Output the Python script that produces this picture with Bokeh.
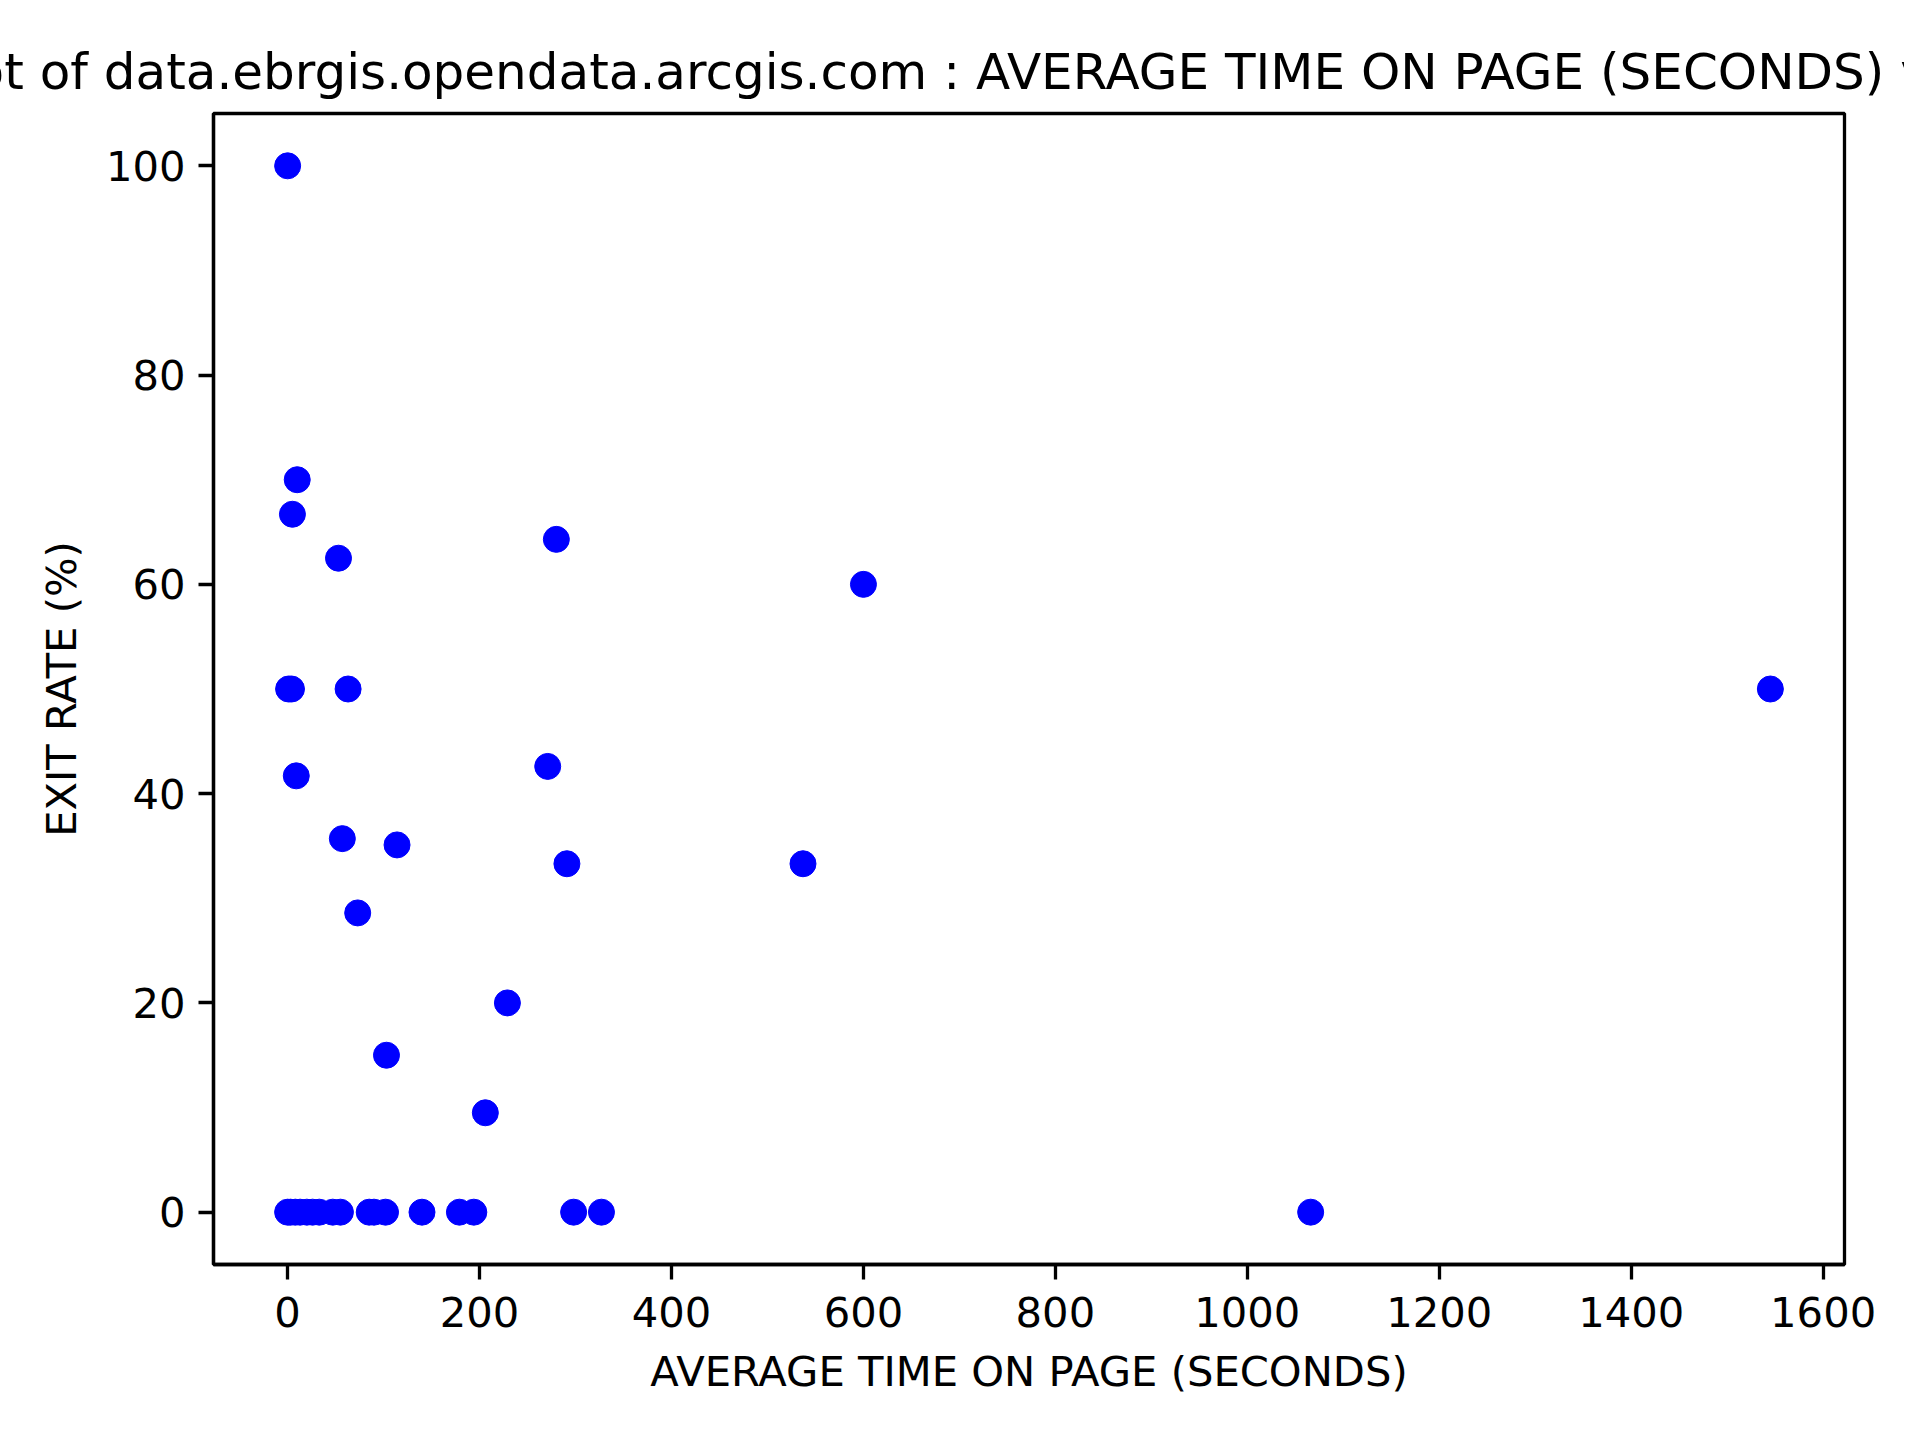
from bokeh.plotting import figure
from bokeh.models import ColumnDataSource, FixedTicker, Range1d
from bokeh.embed import file_html
from bokeh.resources import INLINE

# values
avg_time = [0, 10, 5, 280, 53, 600, 1, 4, 63, 1545, 9, 271, 57, 114, 291, 537, 73,
            229, 103, 206,
            0, 3, 8, 13, 20, 26, 33, 47, 55, 85, 90, 102, 140, 179, 194, 298, 327, 1066]
exit_rate = [100, 70, 66.7, 64.3, 62.5, 60, 50, 50, 50, 50, 41.7, 42.6, 35.7, 35.1, 33.3, 33.3, 28.6,
             20, 15, 9.5,
             0, 0, 0, 0, 0, 0, 0, 0, 0, 0, 0, 0, 0, 0, 0, 0, 0, 0]
x_ticks = [0, 200, 400, 600, 800, 1000, 1200, 1400, 1600]
y_ticks = [0, 20, 40, 60, 80, 100]

title = ("Scatter plot of data.ebrgis.opendata.arcgis.com : "
         "AVERAGE TIME ON PAGE (SECONDS) vs EXIT RATE (%)")

FONT = "DejaVu Sans"

# matplotlib-like 5% margins around the data
xspan = max(avg_time) - min(avg_time)
yspan = max(exit_rate) - min(exit_rate)
x_range = Range1d(min(avg_time) - 0.05 * xspan, max(avg_time) + 0.05 * xspan)
y_range = Range1d(min(exit_rate) - 0.05 * yspan, max(exit_rate) + 0.05 * yspan)

p = figure(width=1904, height=1424, x_range=x_range, y_range=y_range,
           output_backend="svg", toolbar_location=None, title=title,
           min_border_left=213, min_border_right=60,
           min_border_top=113, min_border_bottom=160)

p.title.align = "center"
p.title.text_font = FONT
p.title.text_font_size = "50px"
p.title.text_font_style = "normal"
p.title.text_color = "black"
p.title.standoff = 25
p.title.offset = -10

p.xgrid.visible = False
p.ygrid.visible = False
p.background_fill_color = "white"
p.border_fill_color = "white"
p.outline_line_color = "black"
p.outline_line_width = 3.3
p.outline_line_alpha = 1.0

p.xaxis.ticker = FixedTicker(ticks=x_ticks)
p.yaxis.ticker = FixedTicker(ticks=y_ticks)
p.xaxis.axis_label = "AVERAGE TIME ON PAGE (SECONDS)"
p.yaxis.axis_label = "EXIT RATE (%)"

for ax in (p.xaxis, p.yaxis):
    ax.axis_line_width = 3.3
    ax.axis_line_color = "black"
    ax.major_tick_line_width = 3.3
    ax.major_tick_line_color = "black"
    ax.major_tick_out = 15
    ax.major_tick_in = 0
    ax.minor_tick_line_color = None
    ax.major_label_text_font = FONT
    ax.major_label_text_font_size = "41.7px"
    ax.major_label_text_color = "black"
    ax.axis_label_text_font = FONT
    ax.axis_label_text_font_size = "41.7px"
    ax.axis_label_text_font_style = "normal"
    ax.axis_label_text_color = "black"
    ax.axis_label_standoff = 17

p.xaxis.major_label_standoff = 17
p.yaxis.major_label_standoff = 13

source = ColumnDataSource(data={'x': avg_time, 'y': exit_rate})
p.scatter('x', 'y', source=source, size=26, fill_color="#0000ff", line_color="#0000ff")

open("out.html", "w").write(file_html(p, INLINE))
